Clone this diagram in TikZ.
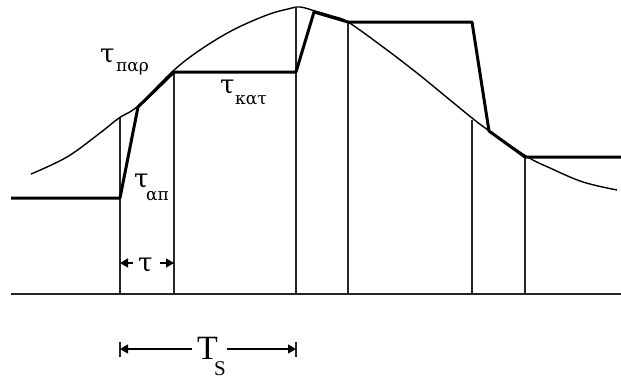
\documentclass[tikz,border=0pt]{standalone}
\usepackage{fontspec}
\setmainfont{Liberation Serif}
\newfontfamily\grk{DejaVu Serif}
\usetikzlibrary{arrows.meta}
\tikzset{
  thinline/.style={line width=1.3pt, black!85},
  thickline/.style={line width=3pt, black, line join=round},
  curveline/.style={line width=1.4pt, black},
  lbl/.style={inner sep=0pt, anchor=base west},
  taufont/.style={font=\grk\fontsize{26}{28}\selectfont},
  subfont/.style={font=\grk\fontsize{17}{19}\selectfont},
  dimarrow/.style={line width=1.3pt, -{Triangle[length=8pt,width=9pt]}},
}
\begin{document}
\begin{tikzpicture}[x=1pt,y=-1pt]
\useasboundingbox (0,0) rectangle (621,380);
% axis
\coordinate (ax0) at (11,294);
\coordinate (ax1) at (621,294);
\draw[thinline] (ax0) -- (ax1);
% curve
\draw[curveline] plot[smooth, tension=0.6] coordinates {(31,174) (67,157) (100,133) (119,118) (138,106) (173,71) (200,50) (233,30) (267,15) (288,9) (300,7) (315,11) (332,16) (348,22) (383,47) (417,73) (450,100) (472,118) (488,130) (526,156) (550,168) (583,182) (617,190)};
% sample points
\coordinate (b1) at (120,294); \coordinate (t1) at (120,118);
\coordinate (b2) at (174,294); \coordinate (t2) at (174,72);
\coordinate (b3) at (296,294); \coordinate (t3) at (296,7);
\coordinate (b4) at (348,294); \coordinate (t4) at (348,22);
\coordinate (b5) at (472,294); \coordinate (t5) at (472,120);
\coordinate (b6) at (525,294); \coordinate (t6) at (525,157);
\foreach \i in {1,...,6} \draw[thinline] (b\i) -- (t\i);
% staircase
\coordinate (s0) at (11,198);
\coordinate (s1) at (120,198);
\coordinate (s2) at (138,107);
\coordinate (s3) at (174,72);
\coordinate (s4) at (296,72);
\coordinate (s5) at (314,12);
\coordinate (s6) at (348,22);
\coordinate (s7) at (472,22);
\coordinate (s8) at (489,131);
\coordinate (s9) at (525,157);
\coordinate (s10) at (621,157);
\draw[thickline] (s0) -- (s1) -- (s2) -- (s3) -- (s4) -- (s5) -- (s6) -- (s7) -- (s8) -- (s9) -- (s10);
% labels
\node[lbl,taufont] (tau1) at (100,62) {τ};
\node[lbl,subfont] (sub1) at (116,71) {παρ};
\node[lbl,taufont] (tau2) at (220,93) {τ};
\node[lbl,subfont] (sub2) at (235,104) {κατ};
\node[lbl,taufont] (tau3) at (134,187) {τ};
\node[lbl,subfont] (sub3) at (146,200) {απ};
\node[lbl,taufont] (tau4) at (138,271) {τ};
% tau dimension arrows
\coordinate (ta1) at (133,263); \coordinate (ta1e) at (120,263);
\coordinate (ta2) at (160,263); \coordinate (ta2e) at (174,263);
\draw[dimarrow] (ta1) -- (ta1e);
\draw[dimarrow] (ta2) -- (ta2e);
% Ts dimension
\node[lbl,font=\fontsize{34}{36}\selectfont] (T) at (197,359) {T};
\node[lbl,font=\fontsize{21}{23}\selectfont] (S) at (214,375) {S};
\coordinate (Tl) at (192,349); \coordinate (Tle) at (120,349);
\coordinate (Tr) at (227,349); \coordinate (Tre) at (296,349);
\draw[dimarrow] (Tl) -- (Tle);
\draw[dimarrow] (Tr) -- (Tre);
\coordinate (bl0) at (120,342); \coordinate (bl1) at (120,357);
\coordinate (br0) at (296,342); \coordinate (br1) at (296,357);
\draw[thinline] (bl0) -- (bl1);
\draw[thinline] (br0) -- (br1);
\end{tikzpicture}
\end{document}
